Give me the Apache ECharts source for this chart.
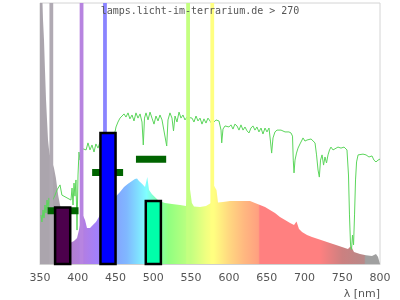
<!DOCTYPE html>
<html>
<head>
<meta charset="utf-8">
<script src="https://cdn.jsdelivr.net/npm/echarts@6/dist/echarts.min.js"></script>
<style>html,body{margin:0;padding:0;background:#fff}#c{width:400px;height:300px}</style>
</head>
<body>
<div id="c"></div>
<script>
// ---- data ----
const xTicks = [350, 400, 450, 500, 550, 600, 650, 700, 750, 800];
const specNm = [350,353.3,354,355.3,356.6,358,359.3,360.6,362,363,365,368.5,371,374,376.5,380.4,384.4,389.7,395,399,401.6,404.3,407,409.6,412.2,416.2,420,424,428,432,440,446.6,450.6,455.9,461.2,466.5,471.8,475.7,478.4,481,485,489,492,494.3,498,502,507.5,515.4,524.7,535.3,543.2,547,551,553.8,561.8,569.7,576.3,580.3,583.6,585.6,592.2,601.5,614.7,628,634.5,641.2,647.8,654.4,661,667.6,674.3,681,686.2,689.5,692.8,696.8,703.4,710,718,725.9,733.8,741.8,749.7,757.6,761.6,765.6,773.5,781.5,789.4,794.7,797.4,800];
const specVal = [100,100,93.5,85.8,74.3,62.8,55.2,47.5,43.7,41.8,42,36.8,33,26.4,22.6,18.8,13,8,8.8,10,13,16.9,18.5,16.9,13.8,13.8,14.9,16.1,18,20.7,22.5,24.5,26,27.6,29.5,30.7,31.8,32.6,32.8,31.8,30.7,29.5,33.3,28.4,26.8,25.7,24.1,23.4,23,22.6,22.2,32,23.4,22,21.8,22.2,23.4,30,28.4,23.6,23.8,24.1,24.1,24.1,23.4,22.6,21.8,20.7,19.5,18,16.9,15.7,14.9,16.3,13.4,12.3,11.1,10.3,9.6,8.8,8,7.3,6.5,5.7,6.9,4.6,3.8,3.4,3.1,3.8,2.7,3.1];
const sunNm = [351.3,352.6,354,355.3,356.6,358,359.3,360.6,362,363.2,369.9,372.5,376.5,379,391,392.4,393.7,395,396.3,397.6,399,400.3,401.6,403,404.3,411,413.5,416.2,418.8,421.5,424,426.8,429.4,449.3,450.6,453.2,455.9,458.5,461.2,463.8,466.5,469,471.8,474.4,477,479.7,482.4,485,486.7,488.3,490.3,493,495.6,498.2,500.9,503.5,506.2,508.8,511.5,514,517.7,519.4,522,524.7,526.7,528.7,531.3,534,536.6,539.2,541.9,544.5,551.2,553.8,556.5,559.1,561.8,564.4,567,569.7,572.3,575,577.6,582.9,584.3,586.9,589.6,590.5,592.2,594.9,597.5,600.1,602.8,605.4,608,610.7,613.4,616,618.7,621.3,624,626.6,629.2,631.9,634.5,637.1,639.8,642.5,645.1,647.8,650.4,653.1,655,656.6,658.4,661,663.7,666.3,669,671.6,674.3,676.9,679.5,682.2,684.2,685.2,686.2,687.5,689.5,691.5,694.1,696.8,698.1,700.7,703.4,706,708.7,711.3,714,716,718,719.7,721.3,723.3,725.3,727.2,729.2,731.2,733.2,735.1,737.8,740.4,744.4,748.4,752.4,756.3,758.3,759.6,761,762.3,763.6,765,766.3,767.6,769,771,773.5,777.5,781.5,785.4,789.4,792,794.7,797.4,800];
const sunVal = [18.8,16.1,20.7,17.6,22.6,19.5,24.5,21.5,25.3,22.2,26.4,28.4,30.3,26.4,24.5,29.1,22.6,31,26,32.2,13,34.1,42.9,39.8,44.4,43.7,46.4,43.7,45.6,42.9,46,44.4,46.7,50.6,52.5,54.4,55.9,55.2,57.5,56.3,57.9,55.6,57.1,54.8,57.9,55.9,57.5,54.4,45.6,55.9,57.9,55.2,58.2,55.9,53.6,56.7,54.8,57.1,55.2,55.9,45.2,55.2,57.9,55.9,51,56.7,54.4,58.2,55.9,57.1,55.2,56.3,55.9,54.4,56.7,54.8,55.9,53.6,55.6,54,55.9,54.8,53.6,55.2,55.9,54.8,51.3,46.4,51.7,52.9,53.6,52.5,53.3,51.7,53.6,52.9,51.3,53.3,51.3,52.5,51,50.2,52.1,52.9,51.3,52.5,50.6,52.1,49.8,52.1,50.6,52.1,47.1,42.5,48.3,50.6,51.3,51,51.3,51,50.6,51,50.6,50.2,49,39.8,34.9,39.8,42.5,44.4,46,47.5,48.3,47.1,47.5,47.1,47.9,47.5,46.4,41.8,36,33.3,39.8,41.8,37.9,41,38.7,41.8,43.7,44.8,43.7,44.4,44.8,44.4,44.8,43.7,34.1,18.8,7.3,5.4,11.1,7.3,18.8,32.2,39.1,41.8,42.5,42.1,41.8,41,41.4,39.8,39.1,39.8,40.2];
const hgLineNm = [365, 405, 436, 546, 578];
const barStart = [370, 430, 490];
const barEnd = [390, 450, 510];
const barVal = [21.6, 50.2, 24.1];
const segStart = [360, 419, 477];
const segEnd = [401, 460, 517];
const segVal = [20.4, 35.1, 40.1];

// ---- styles ----
const hgColors = ['#b0aab3', '#b784e0', '#8a84ff', '#c4ff80', '#ffff80'];
const barColors = ['#4c004c', '#0000ff', '#00ffaa'];
const specStops = [[350,'#aba5ad'],[379,'#aba5ad'],[382,'#b27fc4'],[410,'#b07ee6'],[428,'#a080ff'],[447,'#84a0ff'],[465,'#80b8ff'],[480,'#80e0ff'],[491,'#80ffff'],[505,'#80ffb0'],[520,'#90ff80'],[550,'#c4ff80'],[570,'#f0ff80'],[580,'#ffff80'],[600,'#ffd880'],[620,'#ffb880'],[639,'#ffa080'],[641,'#ff8080'],[720,'#ff8080'],[750,'#cc8080'],[779,'#b88888'],[781,'#a0a0a0'],[800,'#a0a0a0']];

const HW = 2.5;
const rectRender = function (params, api) {
  const p0 = api.coord([api.value(0), api.value(2)]);
  const p1 = api.coord([api.value(1), 0]);
  return {
    type: 'rect',
    shape: { x: p0[0], y: p0[1], width: p1[0] - p0[0], height: p1[1] - p0[1] },
    style: api.style()
  };
};

const chart = echarts.init(document.getElementById('c'), null, { renderer: 'canvas' });
chart.setOption({
  animation: false,
  backgroundColor: '#fff',
  title: [
    { text: 'lamps.licht-im-terrarium.de > 270', left: 'center', top: 6, padding: 0,
      textStyle: { fontFamily: 'DejaVu Sans Mono', fontSize: 10, fontWeight: 'normal', color: '#555' }, z: 20 },
    { text: 'λ [nm]', right: 20, top: 289, padding: 0,
      textStyle: { fontFamily: 'DejaVu Sans', fontSize: 11, fontWeight: 'normal', color: '#555' } }
  ],
  grid: { left: 40, right: 20, top: 3, bottom: 36, show: true, borderColor: '#d4d4d4', borderWidth: 1, containLabel: false },
  xAxis: {
    type: 'value', min: xTicks[0], max: xTicks[xTicks.length - 1], interval: 50,
    axisLine: { show: true, lineStyle: { color: '#d0d0d0' } },
    axisTick: { show: false }, splitLine: { show: false },
    axisLabel: { fontFamily: 'DejaVu Sans', fontSize: 11, color: '#555', margin: 9 }
  },
  yAxis: { type: 'value', min: 0, max: 100, show: false, splitLine: { show: false } },
  series: [
    {
      type: 'line', z: 1, showSymbol: false, symbol: 'none',
      data: specNm.map((n, i) => [n, specVal[i]]),
      lineStyle: { width: 0 },
      areaStyle: { opacity: 1, color: new echarts.graphic.LinearGradient(0, 0, 1, 0,
        specStops.map(s => ({ offset: (s[0] - 350) / 450, color: s[1] }))) }
    },
    {
      type: 'line', z: 2, showSymbol: false, symbol: 'none',
      data: sunNm.map((n, i) => [n, sunVal[i]]),
      lineStyle: { width: 1, color: '#5cd65c' }
    },
    {
      type: 'custom', z: 3, renderItem: rectRender, encode: { x: [0, 1], y: 2 },
      data: hgLineNm.map((n, i) => ({ value: [n - HW, n + HW, 100], itemStyle: { color: hgColors[i] } }))
    },
    ...segStart.map((s, i) => ({
      type: 'line', z: 4, showSymbol: false, symbol: 'none',
      data: [[s, segVal[i]], [segEnd[i], segVal[i]]],
      lineStyle: { width: 7, color: '#006400', cap: 'butt' }
    })),
    {
      type: 'custom', z: 5, renderItem: rectRender, encode: { x: [0, 1], y: 2 },
      data: barStart.map((s, i) => ({ value: [s, barEnd[i], barVal[i]],
        itemStyle: { color: barColors[i], borderColor: '#000', borderWidth: 2.5 } }))
    }
  ]
});
</script>
</body>
</html>
